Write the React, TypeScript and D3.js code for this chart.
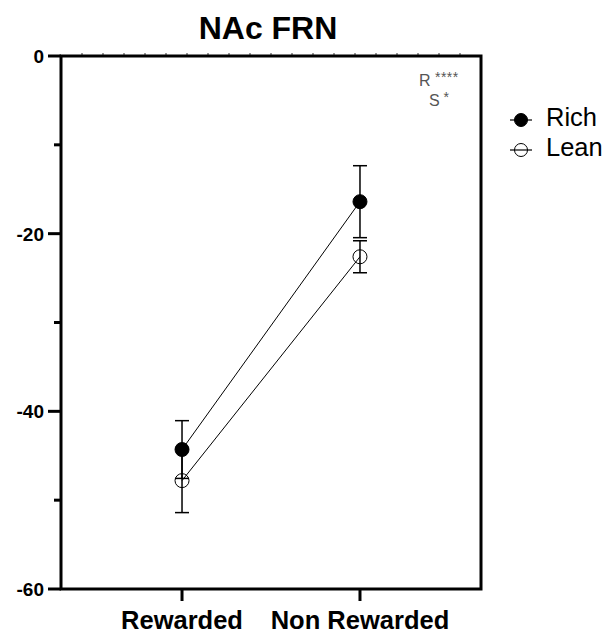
import React from "react";
import * as d3 from "d3";

const categories = ["Rewarded", "Non Rewarded"];
const richMean = [-44.3, -16.4];
const richErr = [3.25, 4.05];
const leanMean = [-47.8, -22.6];
const leanErr = [3.6, 1.8];
const yTicks = [0, -20, -40, -60];
const yMinorTicks = [-10, -30, -50];
const seriesNames = ["Rich", "Lean"];

const W = 613, H = 634;
const left = 61, right = 481, top = 56, bottom = 589;

export default function App() {
  const x = d3.scalePoint<string>().domain(categories).range([left, right]).padding(0.68);
  const y = d3.scaleLinear().domain([-60, 0]).range([bottom, top]);
  const lineGen = d3.line<number>().x((_, i) => x(categories[i])!).y((v) => y(v));
  const font = "Arial, 'Liberation Sans', sans-serif";
  const series = [
    { name: seriesNames[0], mean: richMean, err: richErr, filled: true },
    { name: seriesNames[1], mean: leanMean, err: leanErr, filled: false },
  ];
  const topMinor = d3.range(left + 21, right, 21);
  return (
    <svg width={W} height={H} style={{ position: "absolute", left: 0, top: 0 }} fontFamily={font}>
      <rect width={W} height={H} fill="white" />
      <text x={268} y={39} textAnchor="middle" fontSize={32} fontWeight="bold">NAc FRN</text>
      {/* top minor ticks */}
      {topMinor.map((t) => (
        <line key={t} x1={t} x2={t} y1={top - 3} y2={top} stroke="#333" strokeWidth={1} />
      ))}
      {/* frame */}
      <rect x={left} y={top} width={right - left} height={bottom - top} fill="none" stroke="black" strokeWidth={3} />
      {/* y ticks */}
      {yTicks.map((t) => (
        <g key={t}>
          <line x1={left - 13} x2={left} y1={y(t)} y2={y(t)} stroke="black" strokeWidth={3} />
          <text x={44} y={y(t)} dy="0.36em" textAnchor="end" fontSize={19} fontWeight="bold">{t}</text>
        </g>
      ))}
      {yMinorTicks.map((t) => (
        <line key={t} x1={left - 7} x2={left} y1={y(t)} y2={y(t)} stroke="black" strokeWidth={3} />
      ))}
      {/* x ticks */}
      {categories.map((c) => (
        <g key={c}>
          <line x1={x(c)} x2={x(c)} y1={bottom} y2={bottom + 12} stroke="black" strokeWidth={3} />
          <text x={x(c)} y={629} textAnchor="middle" fontSize={25.5} fontWeight="bold">{c}</text>
        </g>
      ))}
      {/* series */}
      {series.map((s) => (
        <g key={s.name}>
          <path d={lineGen(s.mean)!} fill="none" stroke="black" strokeWidth={1} />
          {s.mean.map((m, i) => {
            const cx = x(categories[i])!;
            return (
              <g key={i}>
                <line x1={cx} x2={cx} y1={y(m + s.err[i])} y2={y(m - s.err[i])} stroke="black" strokeWidth={1.5} />
                <line x1={cx - 7} x2={cx + 7} y1={y(m + s.err[i])} y2={y(m + s.err[i])} stroke="black" strokeWidth={1.5} />
                <line x1={cx - 7} x2={cx + 7} y1={y(m - s.err[i])} y2={y(m - s.err[i])} stroke="black" strokeWidth={1.5} />
              </g>
            );
          })}
          {s.mean.map((m, i) => (
            <circle key={"c" + i} cx={x(categories[i])} cy={y(m)} r={7} fill={s.filled ? "black" : "none"} stroke="black" strokeWidth={1} />
          ))}
        </g>
      ))}
      {/* annotation */}
      <text x={419} y={86} fontSize={16} fill="#555">R<tspan fontSize={14} dy={-4} letterSpacing={0.5}> ****</tspan></text>
      <text x={429} y={106} fontSize={16} fill="#555">S<tspan fontSize={14} dy={-4}> *</tspan></text>
      {/* legend */}
      {series.map((s, i) => {
        const ly = 120 + i * 30;
        return (
          <g key={"lg" + s.name}>
            <line x1={510} x2={532} y1={ly} y2={ly} stroke="black" strokeWidth={1.2} />
            <circle cx={521} cy={ly} r={6.5} fill={s.filled ? "black" : "none"} stroke="black" strokeWidth={1} />
            <text x={546} y={ly + 5.5} fontSize={25.5}>{s.name}</text>
          </g>
        );
      })}
    </svg>
  );
}
